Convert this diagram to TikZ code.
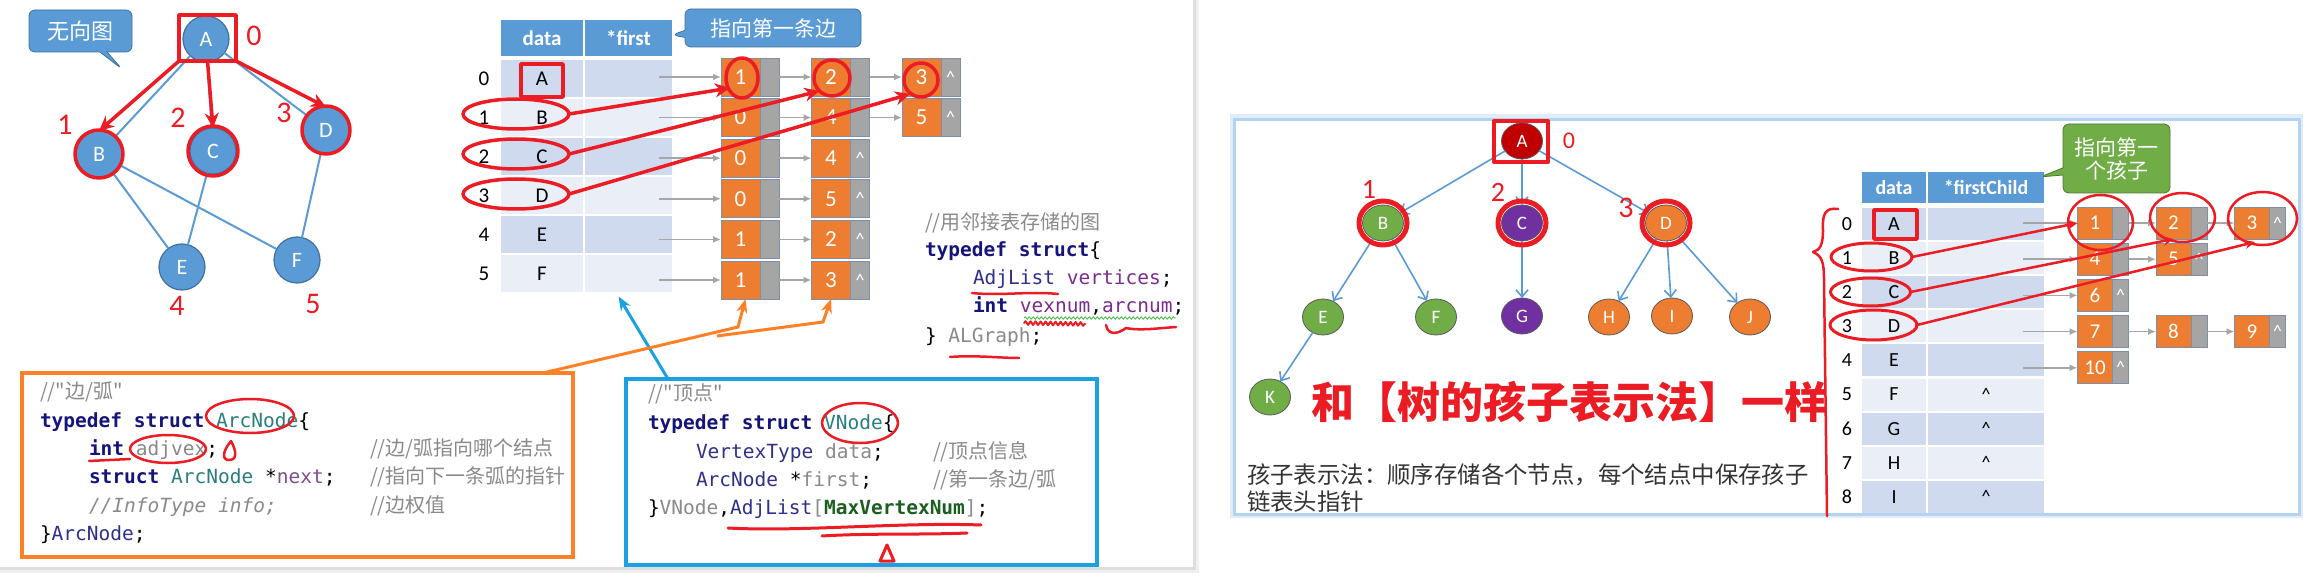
\documentclass[tikz,border=0pt]{standalone}
\usepackage{fontspec}
\setmainfont{Carlito}
\setmonofont{DejaVu Sans Mono}
\newfontfamily\cjk{Noto Sans CJK SC}
\usetikzlibrary{positioning, calc, arrows.meta, shapes.geometric, shapes.callouts, decorations.pathmorphing}

\definecolor{vblue}{HTML}{5B9BD5}
\definecolor{vedge}{HTML}{41719C}
\definecolor{rowdark}{HTML}{CFDAEE}
\definecolor{rowlight}{HTML}{E9EEF7}
\definecolor{arcorg}{HTML}{ED7D31}
\definecolor{arcgry}{HTML}{A5A5A5}
\definecolor{arcrim}{HTML}{7F8FA9}
\definecolor{penred}{HTML}{EC1C24}
\definecolor{boxorg}{HTML}{FF8027}
\definecolor{boxblu}{HTML}{1BA1E2}
\definecolor{kwnavy}{HTML}{14147A}
\definecolor{cmtgry}{HTML}{8A8A8A}
\definecolor{idpur}{HTML}{7B2D8E}
\definecolor{tpteal}{HTML}{2A7E7E}
\definecolor{tpnavy}{HTML}{30308A}
\definecolor{mxgreen}{HTML}{1B5E20}
\definecolor{tgreen}{HTML}{70AD47}
\definecolor{tpurple}{HTML}{7030A0}
\definecolor{tred}{HTML}{C00000}
\definecolor{panelrim}{HTML}{B4D2F2}

\newcommand{\codesize}{\fontsize{19.5}{23}\selectfont}
\newcommand{\kw}[1]{\textcolor{kwnavy}{\bfseries #1}}

\begin{document}
\begin{tikzpicture}[x=1pt, y=-1pt,
    every node/.style={inner sep=0pt, outer sep=0pt},
    gvert/.style={circle, fill=vblue, draw=vedge, line width=1.2pt, minimum size=46, text=white, font=\fontsize{22}{22}\selectfont},
    gedge/.style={draw=vblue, line width=2pt},
    pen/.style={draw=penred, line width=3.5pt, line cap=round, line join=round},
    penarrow/.style={pen, -{Stealth[length=15pt, width=14pt]}},
    thinpen/.style={pen, line width=2.5pt, -{Stealth[length=10pt, width=9pt]}},
    hand/.style={text=penred, font=\fontsize{30}{30}\selectfont},
    hdr/.style={fill=vblue, text=white, font=\bfseries\fontsize{21}{21}\selectfont, minimum height=36},
    cell/.style={minimum height=37, font=\fontsize{21}{21}\selectfont},
    idx/.style={font=\fontsize{21}{21}\selectfont},
    val/.style={fill=arcorg, draw=arcrim, line width=0.8pt, text=white, minimum width=39, minimum height=38, font=\fontsize{23}{23}\selectfont},
    nxt/.style={fill=arcgry, draw=arcrim, line width=0.8pt, text=white, minimum width=19, minimum height=38, font=\fontsize{18}{18}\selectfont},
    val2/.style={val, minimum width=35, minimum height=32, font=\fontsize{21}{21}\selectfont},
    nxt2/.style={nxt, minimum width=16, minimum height=32},
    ptr/.style={draw=gray!70, line width=1.6pt, -{Latex[length=8pt, width=7pt]}},
    code/.style={anchor=west, text height=14, text depth=4, font=\ttfamily\codesize},
    cmt/.style={anchor=west, text=cmtgry, text height=15, text depth=4, font=\cjk\fontsize{20}{20}\selectfont},
    tvert/.style={ellipse, draw=gray!70!black, line width=0.8pt, minimum width=41, minimum height=36, text=white, font=\fontsize{19}{19}\selectfont},
    tarrow/.style={draw=vblue, line width=1.6pt, -{Straight Barb[length=7pt, width=12pt]}}
]
    \useasboundingbox (0,0) rectangle (2319,577);
    \fill[white] (0,0) rectangle (2319,577);
    \fill[black!6] (0,0) rectangle (1199,573);
    \fill[black!13] (0,0) rectangle (1196,570);
    \fill[white] (0,0) rectangle (1193,567);
    \fill[panelrim!40] (1230,114) rectangle (2303,518);
    \draw[panelrim, line width=3pt, fill=white] (1234,120) rectangle (2299,514);

    \node[rectangle callout, rounded corners=6pt, fill=vblue, draw=vedge, line width=0.8pt, minimum width=103, minimum height=42,
        callout absolute pointer={(122,69)}, text=white, font=\cjk\fontsize{22}{22}\selectfont] (undir) at (80.5,31) {无向图};

    \node[gvert] (gA) at (206,39) {A};
    \node[gvert] (gB) at (99,154) {B};
    \node[gvert] (gC) at (213,151) {C};
    \node[gvert] (gD) at (326,130) {D};
    \node[gvert] (gE) at (182,267) {E};
    \node[gvert] (gF) at (297,260) {F};
    \foreach \p/\c in {gA/gB,gA/gC,gA/gD,gB/gE,gB/gF,gC/gE,gD/gF}
        \draw[gedge] (\p) -- (\c);

    \node[pen, minimum width=57, minimum height=46] (sqA) at (207.5,38) {};
    \draw[penarrow] (sqA.south west) -- (gB.north);
    \draw[penarrow] (sqA.south) -- (gC.north);
    \draw[penarrow] (sqA.south east) -- (gD.north);
    \foreach \v/\rad in {gB/24,gC/25,gD/24}
        \draw[pen] (\v) circle (\rad);
    \foreach \t/\x/\y in {0/254/36,1/65/125,2/178/118,3/284/113,4/177/306,5/313/304}
        \node[hand] (gn\t) at (\x,\y) {\t};

    \node[hdr, minimum width=82] (hdata) at (542,38) {data};
    \node[hdr, minimum width=87] (hfirst) at (628.5,38) {*first};
    \foreach \r/\v/\c in {0/A/rowdark,1/B/rowlight,2/C/rowdark,3/D/rowlight,4/E/rowdark,5/F/rowlight} {
        \node[cell, fill=\c, minimum width=82] (d\r) at (542,79+39*\r) {\v};
        \node[cell, fill=\c, minimum width=87] (f\r) at (628.5,79+39*\r) {};
        \node[idx] (i\r) at (484,79+39*\r) {\r};
    }
    \node[rectangle callout, rounded corners=6pt, fill=vblue, draw=vedge, line width=0.8pt, minimum width=176, minimum height=38,
        callout absolute pointer={(672,35)}, text=white, font=\cjk\fontsize{21}{21}\selectfont] (firstedge) at (773,28) {指向第一条边};

    \foreach \r/\last/\lst in {0/3/{1,2,3},1/3/{0,4,5},2/2/{0,4},3/2/{0,5},4/2/{1,2},5/2/{1,3}} {
        \foreach \v [count=\k] in \lst {
            \pgfmathtruncatemacro\prev{\k-1}
            \node[val] (a\r\k) at (650+90.5*\k,77+40.6*\r) {\v};
            \node[nxt, right=0pt of a\r\k] (p\r\k) {\ifnum\k=\last\relax\textasciicircum\fi};
            \ifnum\k=1
                \draw[ptr] ($(f\r.east |- a\r\k.west)+(-13,0)$) -- (a\r\k.west);
            \else
                \draw[ptr] (p\r\prev.east) -- (a\r\k.west);
            \fi
        }
    }

    \node[pen, minimum width=42, minimum height=33] (sqdA) at (542,80.5) {};
    \foreach \k/\y in {1/114,2/154,3/194}
        \node[pen, ellipse, minimum width=106, minimum height=30] (e\k) at (516,\y) {};
    \draw[penarrow] (e1.east) -- ($(a01.south west)+(9,-8)$);
    \draw[penarrow] (e2.east) -- ($(a02.south west)+(8,-5)$);
    \draw[penarrow] (e3.east) -- ($(a03.south west)+(8,-2)$);
    \node[pen, ellipse, minimum width=32, minimum height=40] (o1) at (742,78) {};
    \node[pen, ellipse, minimum width=36, minimum height=36] (o2) at (832,78) {};
    \node[pen, ellipse, minimum width=34, minimum height=34] (o3) at (921,80) {};

    \node[cmt] (alc0) at (925,224) {//用邻接表存储的图};
    \node[code] (alc1) at (925,252) {\kw{typedef struct}\{};
    \node[code] (alc2) at (973,280) {\textcolor{tpnavy}{AdjList} \textcolor{idpur}{vertices};};
    \node[code] (alc3) at (973,308) {\kw{int} \textcolor{idpur}{vexnum},\textcolor{idpur}{arcnum};};
    \node[code] (alc4) at (925,337) {\} \textcolor{cmtgry}{ALGraph};};
    \draw[pen, line width=2.5pt] (972,293) .. controls (1000,296) and (1030,291) .. (1058,294);
    \draw[green!50!gray, line width=0.8pt, decorate, decoration={snake, amplitude=1.2, segment length=4}] (1024,318) -- (1176,318);
    \draw[pen, line width=2pt, decorate, decoration={snake, amplitude=1.8, segment length=5}] (1024,323) -- (1085,324);
    \draw[pen, line width=2.5pt] (1106,325) .. controls (1108,336) and (1118,334) .. (1126,328) .. controls (1140,331) and (1160,328) .. (1176,327);
    \draw[pen, line width=2.5pt] (950,357) .. controls (975,355) and (1000,358) .. (1019,358);

    \node[draw=boxorg, line width=4pt, minimum width=551, minimum height=184] (arcbox) at (297.5,465) {};
    \node[cmt] (ac0) at (40,393) {//"边/弧"};
    \node[code] (ac1) at (40,422) {\kw{typedef struct} \textcolor{tpteal}{ArcNode}\{};
    \node[code] (ac2) at (89,450) {\kw{int} \textcolor{cmtgry}{adjvex};};
    \node[cmt] (ac2c) at (370,450) {//边/弧指向哪个结点};
    \node[code] (ac3) at (89,478) {\kw{struct} \textcolor{tpteal}{ArcNode} *\textcolor{idpur!60!gray}{next};};
    \node[cmt] (ac3c) at (370,478) {//指向下一条弧的指针};
    \node[code, text=cmtgry, font=\ttfamily\itshape\codesize] (ac4) at (89,507) {//InfoType info;};
    \node[cmt] (ac4c) at (370,507) {//边权值};
    \node[code] (ac5) at (40,535) {\}\textcolor{tpnavy}{ArcNode};};
    \draw[pen, line width=2.5pt] (250,416) ellipse (44 and 17);
    \draw[pen, line width=2.5pt] (168,449) ellipse (38 and 14);
    \draw[pen, line width=2.5pt] (89,461) -- (130,459);
    \draw[pen, line width=2.5pt] (231,441) .. controls (222,452) and (222,460) .. (229,460) .. controls (237,460) and (237,452) .. (231,441);

    \node[draw=boxblu, line width=4pt, minimum width=471, minimum height=186] (vnbox) at (861.5,472) {};
    \node[cmt] (vc0) at (648,395) {//"顶点"};
    \node[code] (vc1) at (648,424) {\kw{typedef struct} \textcolor{tpteal}{VNode}\{};
    \node[code] (vc2) at (696,453) {\textcolor{tpnavy}{VertexType} \textcolor{cmtgry}{data};};
    \node[cmt] (vc2c) at (933,453) {//顶点信息};
    \node[code] (vc3) at (696,481) {\textcolor{tpnavy}{ArcNode} *\textcolor{cmtgry}{first};};
    \node[cmt] (vc3c) at (933,481) {//第一条边/弧};
    \node[code] (vc4) at (648,509) {\}\textcolor{cmtgry}{VNode},\textcolor{tpnavy}{AdjList}\textcolor{cmtgry}{[}\textcolor{mxgreen}{\bfseries MaxVertexNum}\textcolor{cmtgry}{]};};
    \draw[pen, line width=2.5pt] (860,423) ellipse (38 and 20);
    \draw[pen, line width=3pt] (728,528) .. controls (800,532) and (900,522) .. (981,525);
    \draw[pen, line width=3pt] (822,536) .. controls (870,533) and (920,535) .. (967,533);
    \draw[pen, line width=3pt] (880,561) -- (887,545) -- (894,561) -- cycle;

    \draw[boxblu, line width=3pt, -{Stealth[length=14pt, width=11pt]}] ($(vnbox.north west)+(42,0)$) -- ($(f5.south)+(-10,4)$);
    \draw[boxorg, line width=3pt, -{Stealth[length=14pt, width=11pt]}] ($(arcbox.north east)+(-30,0)$) -- (738,327) -- ($(a51.south)+(5,0)$);
    \draw[boxorg, line width=3pt, -{Stealth[length=14pt, width=11pt]}] (717,336) -- (823,322) -- (a52.south);

    \node[tvert, fill=tred] (tA) at (1522,141) {A};
    \node[tvert, fill=tgreen] (tB) at (1383,223) {B};
    \node[tvert, fill=tpurple] (tC) at (1522,223) {C};
    \node[tvert, fill=arcorg] (tD) at (1666,223) {D};
    \node[tvert, fill=tgreen] (tE) at (1323,317) {E};
    \node[tvert, fill=tgreen] (tF) at (1436,317) {F};
    \node[tvert, fill=tpurple] (tG) at (1522,316) {G};
    \node[tvert, fill=arcorg] (tH) at (1609,317) {H};
    \node[tvert, fill=arcorg] (tI) at (1672,316) {I};
    \node[tvert, fill=arcorg] (tJ) at (1750,317) {J};
    \node[tvert, fill=tgreen] (tK) at (1270,397) {K};
    \foreach \p/\c in {tA/tB,tA/tC,tA/tD,tB/tE,tB/tF,tC/tG,tD/tH,tD/tI,tD/tJ,tE/tK}
        \draw[tarrow] (\p) -- (\c);
    \node[pen, line width=4pt, minimum width=54, minimum height=41] (sqtA) at (1521,141.5) {};
    \foreach \v in {tB,tC,tD}
        \draw[pen, line width=5pt] (\v) ellipse (24 and 22);
    \foreach \t/\x/\y/\s in {0/1569/141/24,1/1369/189/28,2/1498/192/28,3/1626/208/30}
        \node[hand, font=\fontsize{\s}{\s}\selectfont] (tn\t) at (\x,\y) {\t};

    \node[text=penred, font=\cjk\bfseries\fontsize{43}{43}\selectfont] (title) at (1569,402) {和【树的孩子表示法】一样};
    \node[anchor=west, text=black!80, font=\cjk\fontsize{23.4}{28}\selectfont] (desc1) at (1247,475) {孩子表示法：顺序存储各个节点，每个结点中保存孩子};
    \node[anchor=west, text=black!80, font=\cjk\fontsize{23.4}{28}\selectfont] (desc2) at (1247,502) {链表头指针};

    \node[hdr, minimum width=64, minimum height=31, font=\bfseries\fontsize{20}{20}\selectfont] (rhdata) at (1894,187.5) {data};
    \node[hdr, minimum width=116, minimum height=31, font=\bfseries\fontsize{20}{20}\selectfont] (rhfirst) at (1986,187.5) {*firstChild};
    \foreach \r/\v/\c in {0/A/rowdark,1/B/rowlight,2/C/rowdark,3/D/rowlight,4/E/rowdark,5/F/rowlight,6/G/rowdark,7/H/rowlight,8/I/rowdark} {
        \node[cell, fill=\c, minimum width=64, minimum height=32, font=\fontsize{20}{20}\selectfont] (rd\r) at (1894,224+34.1*\r) {\v};
        \node[cell, fill=\c, minimum width=116, minimum height=32, font=\fontsize{18}{18}\selectfont] (rf\r) at (1986,224+34.1*\r) {\ifnum\r>4 \textasciicircum\fi};
        \node[idx, font=\fontsize{20}{20}\selectfont] (ri\r) at (1847,224+34.1*\r) {\r};
    }
    \node[rectangle callout, rounded corners=6pt, fill=tgreen, draw=tgreen!70!black, line width=0.8pt, minimum width=107, minimum height=69,
        callout absolute pointer={(2040,177)}, text=white, align=center, font=\cjk\fontsize{21}{23}\selectfont] (firstchild) at (2116.5,158.5) {指向第一\\个孩子};

    \foreach \r/\last/\lst in {0/3/{1,2,3},1/2/{4,5},2/1/{6},3/3/{7,8,9},4/1/{10}} {
        \foreach \v [count=\k] in \lst {
            \pgfmathtruncatemacro\prev{\k-1}
            \node[val2] (c\r\k) at (2016.5+78.5*\k,223+36.2*\r) {\v};
            \node[nxt2, right=0pt of c\r\k] (q\r\k) {\ifnum\k=\last\relax\textasciicircum\fi};
            \ifnum\k=1
                \draw[ptr] ($(rf\r.east |- c\r\k.west)+(-21,0)$) -- (c\r\k.west);
            \else
                \draw[ptr] (q\r\prev.east) -- (c\r\k.west);
            \fi
        }
    }

    \node[pen, minimum width=43, minimum height=29] (sqrA) at (1895.5,224.5) {};
    \node[pen, line width=3pt, ellipse, minimum width=81, minimum height=28] (re1) at (1871.5,257) {};
    \node[pen, line width=3pt, ellipse, minimum width=80, minimum height=28] (re2) at (1870.5,292) {};
    \node[pen, line width=3pt, ellipse, minimum width=87, minimum height=30] (re3) at (1873.5,325) {};
    \draw[thinpen] (re1.east) -- (c01.west);
    \draw[thinpen] (re2.east) -- (c02.south);
    \draw[thinpen] (re3.east) -- ($(c03.south)+(3,3)$);
    \node[pen, line width=2.5pt, ellipse, minimum width=65, minimum height=55] (rc1) at (2100.5,222.5) {};
    \node[pen, line width=2.5pt, ellipse, minimum width=65, minimum height=49] (rc2) at (2182.5,217.5) {};
    \node[pen, line width=2.5pt, ellipse, minimum width=69, minimum height=53] (rc3) at (2262.5,218.5) {};
    \draw[pen, line width=2.5pt] (1838,209) .. controls (1825,207) and (1822,215) .. (1823,230) .. controls (1823,245) and (1820,250) .. (1813,252) .. controls (1822,256) and (1824,262) .. (1824,280) -- (1827,516);
\end{tikzpicture}
\end{document}
